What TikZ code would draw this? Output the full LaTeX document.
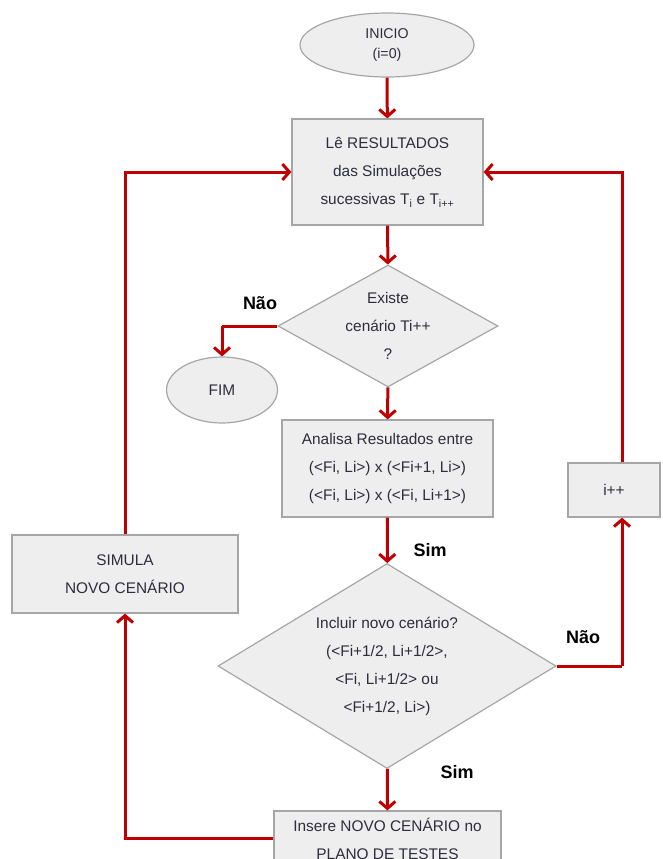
\documentclass[tikz,border=0pt]{standalone}
\usepackage{fontspec}
\setmainfont{Liberation Sans}
\usetikzlibrary{shapes.geometric,arrows.meta}
\definecolor{boxGray}{RGB}{238,238,238}
\definecolor{edgeGray}{RGB}{166,166,166}
\definecolor{flowRed}{RGB}{192,0,0}
\definecolor{textGray}{RGB}{45,45,60}

\begin{document}
\begin{tikzpicture}[%
    x=1pt, y=-1pt,
    every node/.style={
        text=textGray,
        font=\fontsize{15.4}{28}\selectfont,
        align=center,
    },
    block/.style={rectangle, draw=edgeGray, fill=boxGray, line width=1.2pt, inner sep=0pt},
    decision/.style={diamond, draw=edgeGray, fill=boxGray, line width=1.2pt, inner sep=0pt},
    terminal/.style={ellipse, draw=edgeGray, fill=boxGray, line width=1.2pt, inner sep=0pt},
    answer/.style={text=black, font=\fontsize{18}{20}\selectfont\bfseries},
    flow/.style={flowRed, line width=3pt, -{Straight Barb[length=7pt,width=16pt]}},
    link/.style={flowRed, line width=3pt},
]
\useasboundingbox (0,0) rectangle (662,859);
\clip (0,0) rectangle (662,859);

% start and end
\node[terminal, minimum width=174pt, minimum height=64pt, font=\fontsize{14.2}{20}\selectfont] (ini) at (387,45) {INICIO\\(i=0)};
\node[terminal, minimum width=111pt, minimum height=66pt] (fim) at (222,390) {FIM};

% place boxes
\node[block, minimum width=191pt, minimum height=106pt] (le) at (387.5,172)
    {Lê RESULTADOS\\das Simulações\\sucessivas T\textsubscript{i} e T\textsubscript{i++}};
\node[block, minimum width=211pt, minimum height=97pt] (ana) at (387.5,468.5)
    {Analisa Resultados entre\\(<Fi, Li>) x (<Fi+1, Li>)\\(<Fi, Li>) x (<Fi, Li+1>)};
\node[block, minimum width=226pt, minimum height=78pt] (sim) at (125,574) {SIMULA\\NOVO CENÁRIO};
\node[block, minimum width=92pt, minimum height=54pt] (inc) at (614,490) {i++};
\node[block, minimum width=227pt, minimum height=55pt] (ins) at (387.5,838.5)
    {Insere NOVO CENÁRIO no\\PLANO DE TESTES};

% place decisions
\node[decision, aspect=1.85, minimum width=220pt, minimum height=122pt] (ex) at (388,326) {Existe\\cenário Ti++\\?};
\node[decision, aspect=1.7, minimum width=338pt, minimum height=205pt] (inc2) at (387,666)
    {Incluir novo cenário?\\(<Fi+1/2, Li+1/2>,\\<Fi, Li+1/2> ou\\<Fi+1/2, Li>)};

% place answers
\node[answer] (nao1) at (260,303) {Não};
\node[answer] (sim1) at (430,550) {Sim};
\node[answer] (nao2) at (583,637) {Não};
\node[answer] (sim2) at (457,772) {Sim};

% bends
\coordinate (fimTurn) at (222,326);
\coordinate (incTurn) at (622,666);

% draw connectors
\draw[flow] (ini) -- (le);
\draw[flow] (le) -- (ex);
\draw[link] (ex.west) -- (fimTurn);
\draw[flow] (fimTurn) -- (fim);
\draw[flow] (ex) -- (ana);
\draw[flow] (ana) -- (inc2);
\draw[link] (inc2.east) -- (incTurn);
\draw[flow] (incTurn) -- (incTurn |- inc.south);
\draw[flow] (incTurn |- inc.north) |- (le.east);
\draw[flow] (inc2) -- (ins);
\draw[flow] (ins.west) -| (sim.south);
\draw[flow] (sim.north) |- (le.west);

\end{tikzpicture}
\end{document}
